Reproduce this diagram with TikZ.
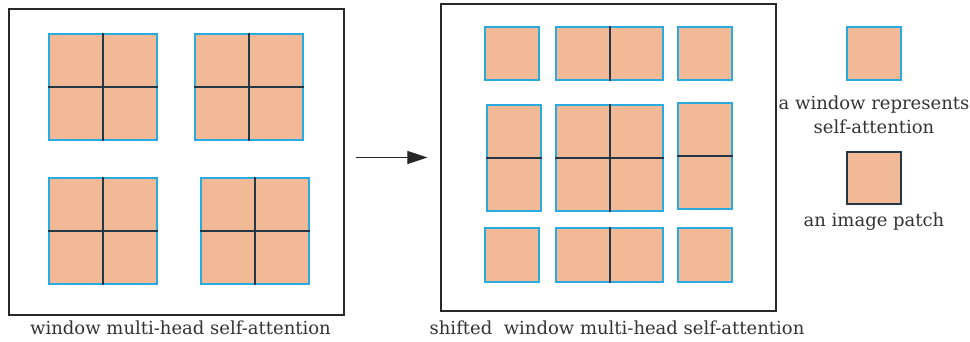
\documentclass[tikz,border=0pt]{standalone}
\usepackage{fontspec}
\setmainfont{DejaVu Serif}
\usetikzlibrary{arrows.meta}
\definecolor{patchfill}{RGB}{242,185,151}
\definecolor{winblue}{RGB}{41,170,225}
\definecolor{darkline}{RGB}{35,55,70}
\definecolor{framegray}{RGB}{40,40,40}
\tikzset{
  framebox/.style={draw=framegray, line width=1.3pt, inner sep=0pt},
  winbox/.style={draw=winblue, fill=patchfill, line width=2.2pt, inner sep=0pt},
  patchbox/.style={draw=darkline, fill=patchfill, line width=1.6pt, inner sep=0pt},
  pline/.style={draw=darkline, line width=2pt},
  captext/.style={font=\fontsize{18}{24}\selectfont, text=black!80, inner sep=0pt, align=center},
  arr/.style={draw=black!85, line width=1.2pt, -{Triangle[length=20pt,width=13pt]}}
}
\begin{document}
\begin{tikzpicture}[x=1pt,y=-1pt]
\useasboundingbox (0,0) rectangle (970,342);
% frames
\node[framebox, minimum width=335pt, minimum height=306pt] (lf) at (176.5,162) {};
\node[framebox, minimum width=335pt, minimum height=307pt] (rf) at (608.5,157.5) {};
% left windows
\node[winbox, minimum width=108pt, minimum height=106pt] (l1) at (103,87) {};
\node[winbox, minimum width=108pt, minimum height=106pt] (l2) at (249,87) {};
\node[winbox, minimum width=108pt, minimum height=106pt] (l3) at (103,231) {};
\node[winbox, minimum width=108pt, minimum height=106pt] (l4) at (255,231) {};
\foreach \w in {l1,l2,l3,l4}{
  \draw[pline] (\w.north) -- (\w.south);
  \draw[pline] (\w.west) -- (\w.east);
}
% right windows
\node[winbox, minimum width=54pt, minimum height=53pt] (ra) at (512,53.5) {};
\node[winbox, minimum width=107pt, minimum height=53pt] (rb) at (609.5,53.5) {};
\node[winbox, minimum width=54pt, minimum height=53pt] (rc) at (705,53.5) {};
\node[winbox, minimum width=54pt, minimum height=106pt] (rd) at (514,158) {};
\node[winbox, minimum width=107pt, minimum height=106pt] (re) at (609.5,158) {};
\node[winbox, minimum width=54pt, minimum height=106pt] (rf2) at (705,156) {};
\node[winbox, minimum width=54pt, minimum height=54pt] (rg) at (512,255) {};
\node[winbox, minimum width=107pt, minimum height=54pt] (rh) at (609.5,255) {};
\node[winbox, minimum width=54pt, minimum height=54pt] (ri) at (705,255) {};
\foreach \w in {rb,re,rh}{
  \draw[pline] (\w.north) -- (\w.south);
}
\foreach \w in {rd,re,rf2}{
  \draw[pline] (\w.west) -- (\w.east);
}
% arrow
\draw[arr, shorten <=11pt, shorten >=13pt] (lf.east |- rf.west) -- (rf.west);
% captions
\node[captext] (lcap) at (180.5,328) {window multi-head self-attention};
\node[captext] (rcap) at (617,328) {shifted~ window multi-head self-attention};
% legend
\node[winbox, minimum width=54pt, minimum height=53pt] (lgw) at (874,53.5) {};
\node[captext] (lgwt) at (874,115) {a window represents\\self-attention};
\node[patchbox, minimum width=54pt, minimum height=52pt] (lgp) at (874,178) {};
\node[captext] (lgpt) at (874,222) {an image patch};
\end{tikzpicture}
\end{document}
